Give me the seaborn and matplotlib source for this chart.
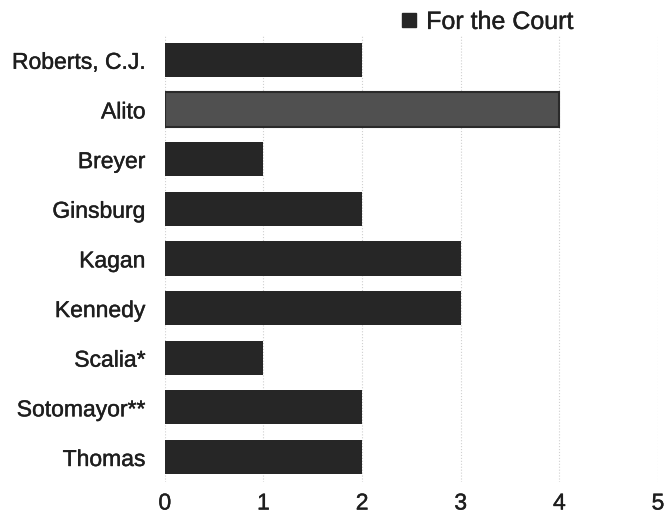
import matplotlib
matplotlib.use("Agg")
import matplotlib.pyplot as plt
import matplotlib.patheffects as pe
from matplotlib.lines import Line2D
import seaborn as sns
import pandas as pd

justices = ["Roberts, C.J.", "Alito", "Breyer", "Ginsburg", "Kagan",
            "Kennedy", "Scalia*", "Sotomayor**", "Thomas"]
for_the_court = [2, 4, 1, 2, 3, 3, 1, 2, 2]
xticks = [0, 1, 2, 3, 4, 5]

sns.set_theme(style="white")
plt.rcParams["font.family"] = ["Liberation Sans", "DejaVu Sans"]

df = pd.DataFrame({"Justice": justices, "Opinions": for_the_court})
colors = ["#262626" if j != "Alito" else "#505050" for j in justices]

fig = plt.figure(figsize=(6.7, 5.22), dpi=100)
ax = fig.add_axes([0.246, 0.077, 0.736, 0.856])

sns.barplot(data=df, x="Opinions", y="Justice", hue="Justice",
            palette=colors, legend=False, width=0.69, ax=ax,
            edgecolor="none", orient="h")
# darker outline on the highlighted bar
for patch, j in zip(ax.patches, justices):
    if j == "Alito":
        patch.set_edgecolor("#2a2a2a")
        patch.set_linewidth(1.5)

ax.set_xlim(0, 5)
ax.set_xticks(xticks)
ax.set_xticklabels([str(t) for t in xticks])
ax.set_xlabel("")
ax.set_ylabel("")
for s in ax.spines.values():
    s.set_visible(False)
ax.grid(axis="x", color="#d0d0d0", linestyle=":", linewidth=0.8)
ax.set_axisbelow(True)
ax.tick_params(axis="both", length=0, colors="#1e1e1e")
ax.tick_params(axis="y", pad=14, labelsize=16.5)
ax.tick_params(axis="x", pad=7, labelsize=16.5)

heavier = [pe.withStroke(linewidth=0.3, foreground="#1e1e1e")]
for lbl in ax.get_yticklabels() + ax.get_xticklabels():
    lbl.set_path_effects(heavier)

handle = Line2D([], [], marker="s", linestyle="none", markersize=10,
                color="#262626")
leg = fig.legend([handle], ["For the Court"], loc="center left",
                 bbox_to_anchor=(0.595, 0.958), frameon=False, fontsize=18,
                 handletextpad=0.3, handlelength=0.8, labelcolor="#1e1e1e",
                 borderpad=0, borderaxespad=0)
for t in leg.get_texts():
    t.set_path_effects(heavier)

fig.savefig("out.png", dpi=100)
